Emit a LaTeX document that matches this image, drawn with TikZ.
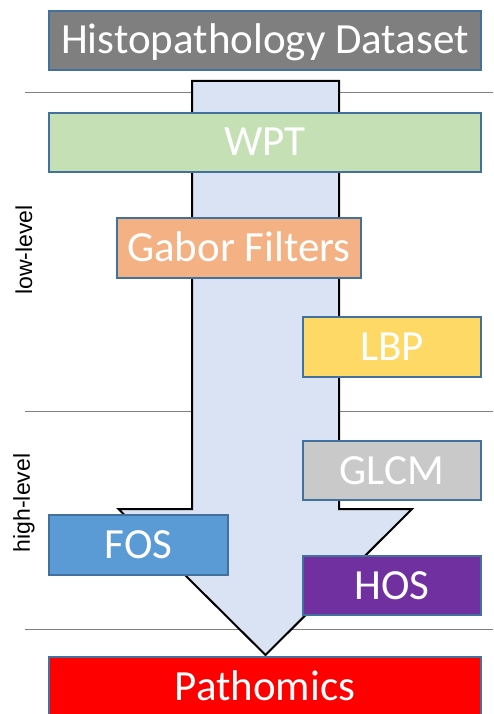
\documentclass[tikz,border=0pt]{standalone}
\usepackage{fontspec}
\setmainfont{Carlito}
\newfontfamily\sidefont{Liberation Sans}
\definecolor{boxedge}{HTML}{41719C}
\definecolor{arrowfill}{HTML}{DAE3F3}
\definecolor{cdata}{HTML}{7F7F7F}
\definecolor{cwpt}{HTML}{C5E0B4}
\definecolor{cgabor}{HTML}{F4B183}
\definecolor{clbp}{HTML}{FFD966}
\definecolor{cglcm}{HTML}{C9C9C9}
\definecolor{cfos}{HTML}{5B9BD5}
\definecolor{chos}{HTML}{7030A0}
\definecolor{cpath}{HTML}{FF0000}
\definecolor{sepline}{HTML}{7F7F7F}
\tikzset{
  fbox/.style={draw=boxedge, line width=1.5pt, inner sep=0pt, outer sep=0pt,
    text=white, font=\fontsize{43}{43}\selectfont, text height=27pt, text depth=0pt,
    align=center},
  sepl/.style={draw=sepline, line width=1pt},
  sidelbl/.style={font=\sidefont\fontsize{23}{23}\selectfont, rotate=90, inner sep=0pt},
}
\begin{document}
\begin{tikzpicture}[x=1pt,y=-1pt]
\useasboundingbox (0,0) rectangle (493,714);
\clip (0,0) rectangle (493,714);
\fill[white] (0,0) rectangle (493,714);
% separator lines
\coordinate (l1a) at (25,93);   \coordinate (l1b) at (493,93);
\coordinate (l2a) at (25,411);  \coordinate (l2b) at (493,411);
\coordinate (l3a) at (25,629);  \coordinate (l3b) at (493,629);
\draw[sepl] (l1a) -- (l1b);
\draw[sepl] (l2a) -- (l2b);
\draw[sepl] (l3a) -- (l3b);
% big arrow
\draw[fill=arrowfill, draw=black, line width=2pt, line join=miter]
  (192,81) -- (339,81) -- (339,509) -- (412,509) -- (265.5,655)
  -- (118.5,509) -- (192,509) -- cycle;
% boxes
\node[fbox, fill=cdata,  minimum width=432pt, minimum height=59pt] (data)  at (265,40.5)  {Histopathology Dataset};
\node[fbox, fill=cwpt,   minimum width=432pt, minimum height=59pt] (wpt)   at (265,142.5) {WPT};
\node[fbox, fill=cgabor, minimum width=244pt, minimum height=60pt] (gabor) at (239,248)   {Gabor Filters};
\node[fbox, fill=clbp,   minimum width=178pt, minimum height=60pt] (lbp)   at (392,347)   {LBP};
\node[fbox, fill=cglcm,  minimum width=178pt, minimum height=59pt] (glcm)  at (392,470.5) {GLCM};
\node[fbox, fill=cfos,   minimum width=179pt, minimum height=60pt] (fos)   at (138.5,545) {FOS};
\node[fbox, fill=chos,   minimum width=178pt, minimum height=59pt] (hos)   at (392,585.5) {HOS};
\node[fbox, fill=cpath,  minimum width=432pt, minimum height=59pt] (path)  at (265,686.5) {Pathomics};
% side labels
\node[sidelbl] (low)  at (24,250) {low-level};
\node[sidelbl] (high) at (24,503) {high-level};
\end{tikzpicture}
\end{document}
